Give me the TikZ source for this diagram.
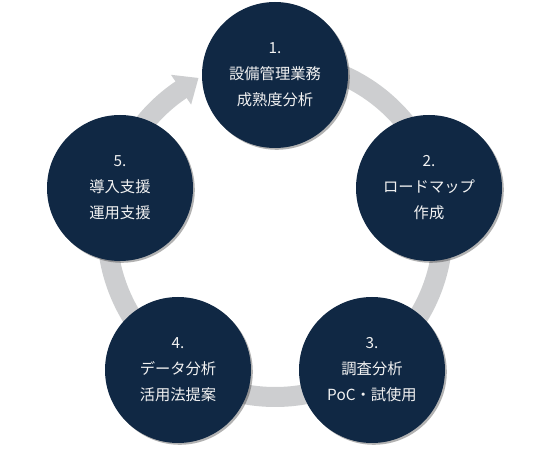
\documentclass[tikz,border=0pt]{standalone}
\usepackage{fontspec}
\newfontfamily\jp{Noto Sans CJK JP}
\usetikzlibrary{calc,shadows}
\definecolor{navy}{RGB}{16,40,68}
\definecolor{ringgrey}{RGB}{205,206,208}
\definecolor{txt}{RGB}{242,242,242}
\begin{document}
\begin{tikzpicture}[x=1pt,y=1pt,
  stage/.style={circle, fill=navy, minimum size=146pt, inner sep=0pt,
    text=txt, align=center,
    font=\jp\fontsize{15.3}{26}\selectfont,
    drop shadow={shadow xshift=1.8pt, shadow yshift=-1.8pt, opacity=0.3, fill=black}},
  ring/.style={draw=ringgrey, line width=20pt}]
\useasboundingbox (0,0) rectangle (550,450);
\coordinate (rc) at (275,221);
% grey circular arrow
\draw[ring] (rc) ++(85:168) arc[start angle=85, end angle=-236.5, radius=168];
\path (rc) ++(124:168) coordinate (P);
\fill[ringgrey] ($(P)+(124:18)$) -- ($(P)+(124:-18)$) -- ($(P)+(34:21)$) -- cycle;
% stages
\node[stage] (s1) at (275,375) {1.\\設備管理業務\\成熟度分析};
\node[stage] (s2) at (429,262) {2.\\ロードマップ\\作成};
\node[stage] (s3) at (372,80) {3.\\調査分析\\PoC・試使用};
\node[stage] (s4) at (178,80) {4.\\データ分析\\活用法提案};
\node[stage] (s5) at (120,262) {5.\\導入支援\\運用支援};
\end{tikzpicture}
\end{document}
